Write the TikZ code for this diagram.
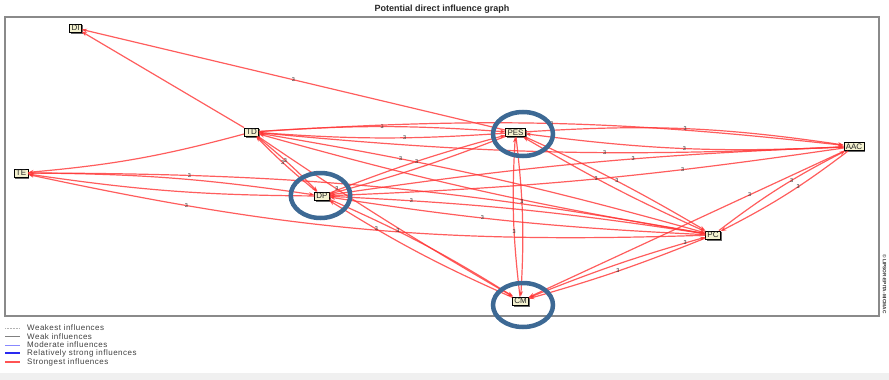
\documentclass[tikz,border=0pt]{standalone}
\usepackage{fontspec}
\setmainfont{Liberation Sans}
\newfontfamily\legfont[LetterSpace=6]{Liberation Sans}
\usetikzlibrary{arrows.meta,shapes.geometric,shadows}
\definecolor{edgered}{HTML}{FF3535}
\definecolor{hlblue}{HTML}{3D6994}
\definecolor{nodefill}{HTML}{F4F2D0}
\definecolor{framegray}{HTML}{8A8A8A}
\definecolor{bandgray}{HTML}{F0F0F0}
\definecolor{modblue}{HTML}{8888FF}
\definecolor{strblue}{HTML}{2A2AF0}
\tikzset{
  var/.style={draw=black, line width=0.6pt, fill=nodefill, text=black!85,
    font=\fontsize{8}{8}\selectfont, inner xsep=1.8pt, inner ysep=1.3pt,
    text height=5.8pt, text depth=0pt,
    drop shadow={shadow xshift=1.3pt, shadow yshift=-1.3pt, fill=black!60, opacity=1}},
  infl/.style={draw=edgered, draw opacity=0.8, line width=1.2pt,
    -{Stealth[length=5.5pt,width=4pt]}},
  lab/.style={font=\fontsize{5.5}{5.5}\selectfont, text=black!85, inner sep=0.5pt},
  hl/.style={ellipse, draw=hlblue, line width=4.5pt, inner sep=0pt},
  legtxt/.style={anchor=west, font=\legfont\fontsize{8}{8}\selectfont, text=black!75, inner sep=0pt},
}
\begin{document}
\begin{tikzpicture}[x=1pt,y=-1pt]
\useasboundingbox (0,0) rectangle (889,380);
\fill[bandgray] (0,373) rectangle (889,380);
\node[font=\bfseries\fontsize{9}{9}\selectfont, text=black!85] (title) at (442,9) {Potential direct influence graph};
\draw[framegray, line width=1.2pt] (5,17) rectangle (879,316);
\node[rotate=-90, font=\bfseries\fontsize{4.8}{4.8}\selectfont, text=black!80, inner sep=0pt] (copy) at (884.5,284) {© LIPSOR-EPITA-MICMAC};

% variables
\node[var] (DI)  at (75.5,28)   {DI};
\node[var] (TD)  at (251.5,132) {TD};
\node[var] (TE)  at (21,173)    {TE};
\node[var] (DP)  at (322,196)   {DP};
\node[var] (PES) at (515.5,132.5) {PES};
\node[var] (AAC) at (854,146.5) {AAC};
\node[var] (PC)  at (713,235)   {PC};
\node[var] (CM)  at (520.5,301) {CM};

% influences
\draw[infl] (PES) to node[lab, pos=0.5] {3} (DI);
\draw[infl] (TD) to (DI);
\draw[infl] (TD) to[bend left=5] (TE);
\draw[infl] (TE) to[bend left=4] (DP);
\draw[infl] (DP) to[bend left=4] (TE);
\draw[infl] (TE) to[bend left=5] node[lab, pos=0.22] {3} (PC);
\draw[infl] (PC) to[bend left=7] node[lab, pos=0.78] {3} (TE);
\draw[infl] (TD) to[bend left=3] node[lab, pos=0.45] {3} (DP);
\draw[infl] (DP) to[bend left=3] node[lab, pos=0.55] {3} (TD);
\draw[infl] (TD) to[bend right=2] node[lab, pos=0.3] {3} (CM);
\draw[infl] (TD) to[bend left=4] node[lab, pos=0.5] {3} (PES);
\draw[infl] (PES) to[bend left=4] node[lab, pos=0.4] {3} (TD);
\draw[infl] (TD) to[bend left=5] node[lab, pos=0.5] {3} (AAC);
\draw[infl] (AAC) to[bend left=4] node[lab, pos=0.4] {3} (TD);
\draw[infl] (TD) to[bend left=3] node[lab, pos=0.3] {3} (PC);
\draw[infl] (PC) to[bend left=3] (TD);
\draw[infl] (DP) to[bend left=3] node[lab, pos=0.5] {3} (PES);
\draw[infl] (PES) to[bend left=3] (DP);
\draw[infl] (DP) to[bend left=3] node[lab, pos=0.6] {3} (AAC);
\draw[infl] (AAC) to[bend left=3] node[lab, pos=0.3] {3} (DP);
\draw[infl] (DP) to[bend left=3] node[lab, pos=0.2] {3} (PC);
\draw[infl] (PC) to[bend left=3] node[lab, pos=0.6] {3} (DP);
\draw[infl] (DP) to[bend left=4] node[lab, pos=0.35] {3} (CM);
\draw[infl] (CM) to[bend left=4] node[lab, pos=0.75] {3} (DP);
\draw[infl] (PES) to[bend left=6] node[lab, pos=0.5] {3} (AAC);
\draw[infl] (AAC) to[bend left=5] node[lab, pos=0.5] {3} (PES);
\draw[infl] (PES) to[bend left=3] node[lab, pos=0.5] {3} (PC);
\draw[infl] (PC) to[bend left=3] node[lab, pos=0.6] {3} (PES);
\draw[infl] (PES) to[bend left=5] node[lab, pos=0.4] {3} (CM);
\draw[infl] (CM) to[bend left=5] node[lab, pos=0.4] {3} (PES);
\draw[infl] (AAC) to[bend left=5] node[lab, pos=0.4] {3} (PC);
\draw[infl] (PC) to[bend left=5] node[lab, pos=0.6] {3} (AAC);
\draw[infl] (AAC) to node[lab, pos=0.3] {3} (CM);
\draw[infl] (PC) to[bend left=3] node[lab, pos=0.5] {3} (CM);
\draw[infl] (CM) to[bend left=3] node[lab, pos=0.9] {3} (PC);

% highlights
\node[hl, minimum width=59.5pt, minimum height=45pt] (hDP)  at (320.5,195.5) {};
\node[hl, minimum width=60pt, minimum height=44pt]   (hPES) at (523,134) {};
\node[hl, minimum width=60pt, minimum height=44pt]   (hCM)  at (523,305) {};

% legend
\coordinate (l1a) at (5,328); \coordinate (l1b) at (20,328);
\coordinate (l2a) at (5,336); \coordinate (l2b) at (20,336);
\coordinate (l3a) at (5,345); \coordinate (l3b) at (20,345);
\coordinate (l4a) at (5,353); \coordinate (l4b) at (20,353);
\coordinate (l5a) at (5,362); \coordinate (l5b) at (20,362);
\draw[black!30, densely dotted, line width=0.5pt] (l1a) -- (l1b);
\draw[black!50, line width=0.8pt] (l2a) -- (l2b);
\draw[modblue, line width=0.8pt] (l3a) -- (l3b);
\draw[strblue, line width=1.1pt] (l4a) -- (l4b);
\draw[edgered!85, line width=1.5pt] (l5a) -- (l5b);
\node[legtxt] (t1) at (27,328) {Weakest influences};
\node[legtxt] (t2) at (27,336.5) {Weak influences};
\node[legtxt] (t3) at (27,345) {Moderate influences};
\node[legtxt] (t4) at (27,353.5) {Relatively strong influences};
\node[legtxt] (t5) at (27,362) {Strongest influences};
\end{tikzpicture}
\end{document}
